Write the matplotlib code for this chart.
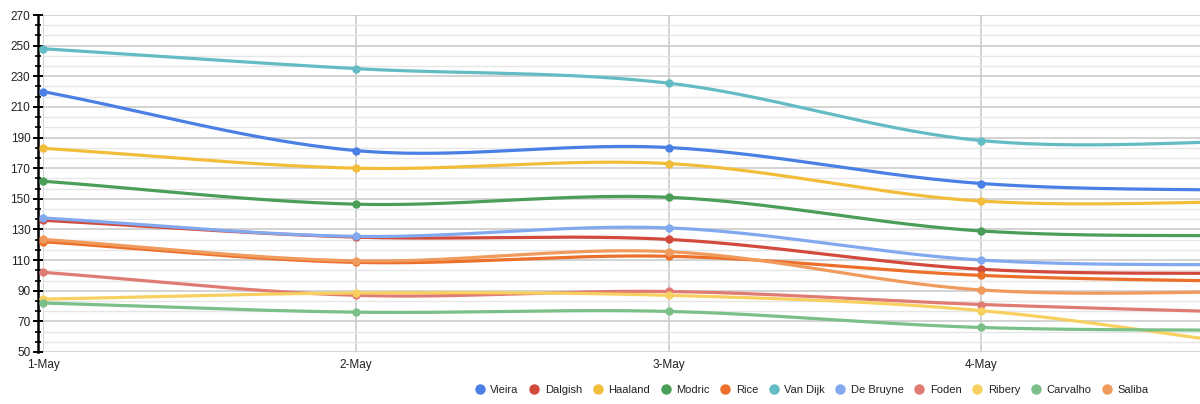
import numpy as np
import matplotlib
matplotlib.use("Agg")
import matplotlib.pyplot as plt
from matplotlib.lines import Line2D

plt.rcParams['font.family'] = ['Liberation Sans', 'DejaVu Sans']

# datos (5-May queda fuera del recorte)
dates = ['1-May', '2-May', '3-May', '4-May', '5-May']
names = ['Vieira', 'Dalgish', 'Haaland', 'Modric', 'Rice', 'Van Dijk',
         'De Bruyne', 'Foden', 'Ribery', 'Carvalho', 'Saliba']
vieira = [220, 181.5, 183.5, 160, 155]
dalgish = [136, 125, 123.5, 104, 101]
haaland = [183, 170, 173, 148.5, 148.5]
modric = [161.5, 146.5, 151, 129, 125.5]
rice = [122, 108.5, 112.5, 100, 95.5]
van_dijk = [248, 235, 225.5, 188, 188]
de_bruyne = [137.5, 125.5, 131, 110, 106.5]
foden = [102, 87, 89.5, 81, 75]
ribery = [84.5, 88.5, 87, 77, 50.5]
carvalho = [82, 76, 76.5, 66, 64]
saliba = [123.5, 109.5, 115.5, 90.5, 89.5]
series = [vieira, dalgish, haaland, modric, rice, van_dijk,
          de_bruyne, foden, ribery, carvalho, saliba]
colors = ['#4a80e6', '#d24a3c', '#f3bd3c', '#4b9e57', '#ec6f2a', '#63bcc4',
          '#82a9f0', '#e07b73', '#f7d060', '#7bbf89', '#f09a5c']
yticks = [50, 70, 90, 110, 130, 150, 170, 190, 210, 230, 250, 270]


def suave(y, n=120):
    """Curva Catmull-Rom entre los puntos (x = 0, 1, 2, ...)"""
    y = np.asarray(y, dtype=float)
    k = len(y)
    m = np.zeros(k)
    m[1:-1] = (y[2:] - y[:-2]) / 2.0
    m[0] = y[1] - y[0]
    m[-1] = y[-1] - y[-2]
    xs, ys = [], []
    for i in range(k - 1):
        t = np.linspace(0, 1, n)
        h00 = 2*t**3 - 3*t**2 + 1
        h10 = t**3 - 2*t**2 + t
        h01 = -2*t**3 + 3*t**2
        h11 = t**3 - t**2
        xs.append(i + t)
        ys.append(h00*y[i] + h10*m[i] + h01*y[i+1] + h11*m[i+1])
    return np.concatenate(xs), np.concatenate(ys)


fig = plt.figure(figsize=(12, 4.04), dpi=100)
ax = fig.add_axes([43/1200, 52/404, 1157/1200, 337/404])

x = np.arange(len(dates))
xmax = 1157/312.8
for vals, c in zip(series, colors):
    xs, ys = suave(vals)
    sel = xs <= xmax
    ax.plot(xs[sel], ys[sel], color=c, lw=2.3, solid_capstyle='round', clip_on=False, zorder=3)
    ax.plot(x[:4], vals[:4], 'o', color=c, ms=5, clip_on=False, zorder=4)

ax.set_xlim(0, xmax)
ax.set_ylim(50, 270)
ax.set_xticks(x[:4])
ax.set_xticklabels(dates[:4])
ax.set_yticks(yticks)
ax.set_yticks(np.arange(50, 271, 20/3), minor=True)

# rejilla
ax.grid(which='major', axis='both', color='#cccccc', lw=1.2, zorder=0)
ax.grid(which='minor', axis='y', color='#e6e6e6', lw=1.0, zorder=0)
ax.set_axisbelow(True)

for s in ['top', 'right', 'bottom']:
    ax.spines[s].set_visible(False)
ax.spines['left'].set_position(('outward', 3.6))
ax.spines['left'].set_color('black')
ax.spines['left'].set_linewidth(1.8)

ax.tick_params(axis='y', which='major', direction='inout', length=7, width=1.4,
               color='black', labelsize=8.5, labelcolor='#222222', pad=2)
ax.tick_params(axis='y', which='minor', direction='inout', length=4.5, width=1.2,
               color='black')
ax.tick_params(axis='x', length=0, labelsize=8.5, labelcolor='#222222', pad=5)

handles = [Line2D([], [], marker='o', ls='', color=c, ms=6.5) for c in colors]
fig.legend(handles, names, loc='center', bbox_to_anchor=(812/1200, 1 - 390/404),
           ncol=11, frameon=False, fontsize=8, handlelength=0.8,
           handletextpad=0.55, columnspacing=1.0, labelcolor='#222222')

fig.savefig('out.png', dpi=100)
